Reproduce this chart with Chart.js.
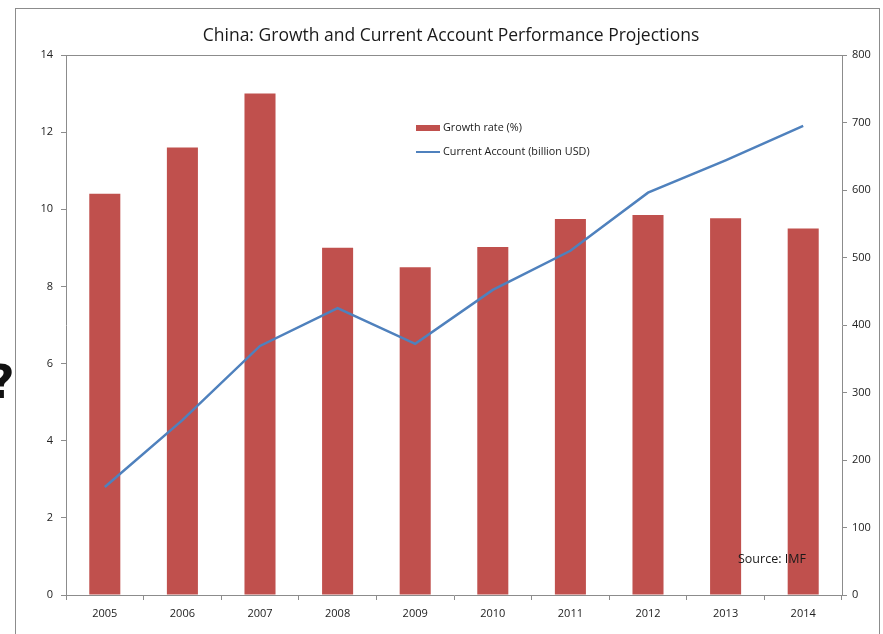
<!DOCTYPE html>
<html>
<head>
<meta charset="utf-8">
<script src="https://cdn.jsdelivr.net/npm/chart.js@4.4.1/dist/chart.umd.min.js"></script>
<style>
    html, body { margin: 0; padding: 0; background: #fff; overflow: hidden; }
    #wrap { position: relative; width: 883px; height: 634px; }
    #mark { position: absolute; left: -12px; top: 355px; font: bold 46px "DejaVu Sans", sans-serif; color: #111; }
</style>
</head>
<body>
<div id="wrap">
    <canvas id="myChart" width="883" height="634"></canvas>
    <div id="mark">?</div>
</div>
<script>
var years = ['2005', '2006', '2007', '2008', '2009', '2010', '2011', '2012', '2013', '2014'];
var growthRate = [10.4, 11.6, 13.0, 9.0, 8.5, 9.02, 9.75, 9.85, 9.77, 9.5];
var currentAccount = [160, 259, 369, 425, 372, 452, 510, 596, 644, 695];
var leftTicks = [0, 2, 4, 6, 8, 10, 12, 14];
var rightTicks = [0, 100, 200, 300, 400, 500, 600, 700, 800];

var titleText = 'China: Growth and Current Account Performance Projections';
var sourceText = 'Source: IMF';
var fontFamily = '"Open Sans", "Noto Sans", sans-serif';

// frame, title, top border, legend and source note
var decorations = {
    id: 'decorations',
    beforeDraw: function (chart) {
        var ctx = chart.ctx;
        ctx.save();
        ctx.strokeStyle = '#8c8c8c';
        ctx.lineWidth = 1;
        ctx.strokeRect(15.5, 8.5, 864, 700);
        ctx.restore();
    },
    afterDraw: function (chart) {
        var ctx = chart.ctx;
        var area = chart.chartArea;
        ctx.save();
        ctx.strokeStyle = '#8c8c8c';
        ctx.lineWidth = 1;
        ctx.beginPath();
        ctx.moveTo(area.left, Math.round(area.top) + 0.5);
        ctx.lineTo(area.right, Math.round(area.top) + 0.5);
        ctx.stroke();

        ctx.fillStyle = '#1a1a1a';
        ctx.font = '17.5px ' + fontFamily;
        ctx.textAlign = 'center';
        ctx.textBaseline = 'middle';
        ctx.fillText(titleText, 451, 36);

        // legend
        var bars = chart.data.datasets[0];
        var line = chart.data.datasets[1];
        ctx.textAlign = 'left';
        ctx.font = '10.8px ' + fontFamily;
        ctx.fillStyle = bars.backgroundColor;
        ctx.fillRect(416, 125, 24, 6);
        ctx.fillStyle = '#1a1a1a';
        ctx.fillText(bars.label, 443, 128);
        ctx.strokeStyle = line.borderColor;
        ctx.lineWidth = 2;
        ctx.beginPath();
        ctx.moveTo(416, 152);
        ctx.lineTo(440, 152);
        ctx.stroke();
        ctx.fillText(line.label, 443, 152);

        ctx.font = '12.5px ' + fontFamily;
        ctx.fillText(sourceText, 738, 559);
        ctx.restore();
    }
};

var ctx = document.getElementById('myChart').getContext('2d');
var myChart = new Chart(ctx, {
    type: 'bar',
    data: {
        labels: years,
        datasets: [{
            label: 'Growth rate (%)',
            data: growthRate,
            yAxisID: 'y',
            backgroundColor: '#C0504D',
            categoryPercentage: 1,
            barPercentage: 0.4,
            order: 1
        }, {
            type: 'line',
            label: 'Current Account (billion USD)',
            data: currentAccount,
            yAxisID: 'y1',
            borderColor: '#4F81BD',
            backgroundColor: '#4F81BD',
            borderWidth: 2.5,
            pointRadius: 0,
            tension: 0,
            order: 0
        }]
    },
    options: {
        responsive: false,
        animation: false,
        events: [],
        layout: { padding: { top: 55, right: 0, left: 0, bottom: 0 } },
        plugins: {
            legend: { display: false },
            title: { display: false },
            tooltip: { enabled: false }
        },
        scales: {
            x: {
                offset: true,
                afterFit: function (scale) { scale.height = 39; },
                grid: { offset: true, drawOnChartArea: false, drawTicks: true, tickLength: 5, color: '#8c8c8c' },
                border: { display: true, color: '#8c8c8c' },
                ticks: { color: '#222', font: { family: fontFamily, size: 11 }, padding: 7, maxRotation: 0 }
            },
            y: {
                position: 'left',
                min: 0,
                max: 14,
                afterFit: function (scale) { scale.width = 66; },
                afterBuildTicks: function (scale) {
                    scale.ticks = leftTicks.map(function (v) { return { value: v }; });
                },
                grid: { drawOnChartArea: false, drawTicks: true, tickLength: 5, color: '#8c8c8c' },
                border: { display: true, color: '#8c8c8c' },
                ticks: { color: '#222', font: { family: fontFamily, size: 11 }, padding: 8 }
            },
            y1: {
                position: 'right',
                min: 0,
                max: 800,
                afterFit: function (scale) { scale.width = 41; },
                afterBuildTicks: function (scale) {
                    scale.ticks = rightTicks.map(function (v) { return { value: v }; });
                },
                grid: { drawOnChartArea: false, drawTicks: true, tickLength: 5, color: '#8c8c8c' },
                border: { display: true, color: '#8c8c8c' },
                ticks: { color: '#222', font: { family: fontFamily, size: 11 }, padding: 5 }
            }
        }
    },
    plugins: [decorations]
});
</script>
</body>
</html>
